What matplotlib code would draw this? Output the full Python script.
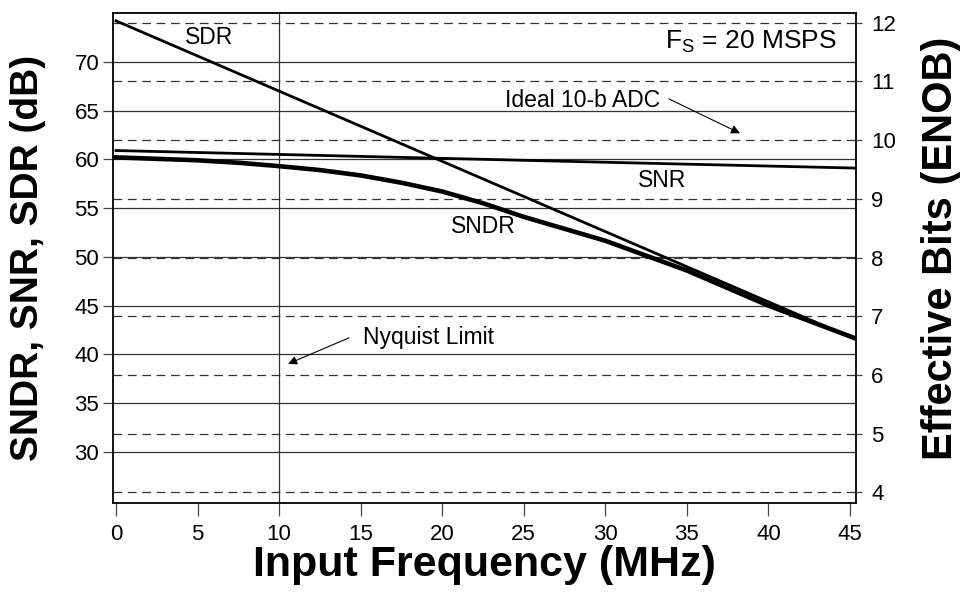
import numpy as np
import matplotlib
matplotlib.use("Agg")
import matplotlib.pyplot as plt

plt.rcParams['font.family'] = ['Liberation Sans', 'DejaVu Sans']
plt.rcParams['mathtext.fontset'] = 'custom'
plt.rcParams['mathtext.rm'] = 'Liberation Sans'
plt.rcParams['mathtext.it'] = 'Liberation Sans'

# ---- data ----
freq_sdr = [0, 45.4]
sdr_db = [74.2, 41.5]

freq_snr = [0, 10, 20, 30, 45.4]
snr_db = [60.9, 60.5, 60.1, 59.7, 59.1]

freq_sndr = [0, 5, 7.5, 10, 12.5, 15, 17.5, 20, 22.5, 25, 30, 35, 40, 45.4]
sndr_db = [60.2, 59.9, 59.65, 59.3, 58.9, 58.35, 57.6, 56.7, 55.5, 54.1,
           51.65, 48.6, 45.0, 41.6]

db_ticks = [30, 35, 40, 45, 50, 55, 60, 65, 70]
enob_ticks = [4, 5, 6, 7, 8, 9, 10, 11, 12]
x_ticks = [0, 5, 10, 15, 20, 25, 30, 35, 40, 45]
nyquist = 10


def enob2db(n):
    return 6.02 * np.asarray(n) + 1.76


def db2enob(d):
    return (np.asarray(d) - 1.76) / 6.02


fig = plt.figure(figsize=(9.62, 6.03), dpi=100)
ax = fig.add_axes([0.1175, 0.1658, 0.7723, 0.8126])

xlo, xhi = -0.18, 45.37
ylo, yhi = 24.76, 75.0
ax.set_xlim(xlo, xhi)
ax.set_ylim(ylo, yhi)

# grid: solid at dB ticks, dashed at ENOB levels, vertical at Nyquist
for d in db_ticks:
    ax.axhline(d, color='#333333', lw=0.9, zorder=1)
for n in enob_ticks:
    ax.axhline(enob2db(n), color='#333333', lw=0.9,
               linestyle=(0, (7, 4.5)), zorder=1)
ax.axvline(nyquist, color='#333333', lw=0.9, zorder=1)

# curves
ax.plot(freq_snr, snr_db, color='black', lw=2.0, zorder=3)
ax.plot(freq_sdr, sdr_db, color='black', lw=2.0, zorder=3)
ax.plot(freq_sndr, sndr_db, color='black', lw=3.3, zorder=4)

# labels on curves
fs_txt = 16.5
ax.text(5.7, 72.5, "SDR", fontsize=fs_txt, ha='center', va='center')
ax.text(33.5, 57.84, "SNR", fontsize=fs_txt, ha='center', va='center')
ax.text(22.5, 53.1, "SNDR", fontsize=fs_txt, ha='center', va='center')
ax.text(44.2, 72.06, r"F$_\mathrm{S}$ = 20 MSPS", fontsize=19,
        ha='right', va='center')

arrow = dict(arrowstyle='-|>', color='black', lw=0.8,
             mutation_scale=13, shrinkA=0, shrinkB=0)
ax.text(33.35, 66.06, "Ideal 10-b ADC", fontsize=fs_txt,
        ha='right', va='center')
ax.annotate("", xy=(38.26, 62.67), xytext=(33.9, 66.2), arrowprops=arrow)
ax.text(15.14, 41.7, "Nyquist Limit", fontsize=fs_txt, ha='left', va='center')
ax.annotate("", xy=(10.55, 39.03), xytext=(14.29, 41.7), arrowprops=arrow)

# axes styling
for s in ax.spines.values():
    s.set_linewidth(1.3)
ax.set_xticks(x_ticks)
ax.set_yticks(db_ticks)
ax.tick_params(axis='x', direction='out', length=9, width=0.9,
               color='#444444', labelsize=16, pad=6)
ax.tick_params(axis='y', direction='out', length=7, width=0.9,
               color='#444444', labelsize=16, pad=3)
ax.set_xlabel("Input Frequency (MHz)", fontsize=31, fontweight='bold',
              va='center')
ax.xaxis.set_label_coords(0.5, -0.1265)
ax.set_ylabel("SNDR, SNR, SDR (dB)", fontsize=28, fontweight='bold',
              va='center')
ax.yaxis.set_label_coords(-0.114, 0.5)

ax2 = ax.twinx()
ax2.set_position(ax.get_position())
ax2.set_ylim(db2enob(ylo), db2enob(yhi))
ax2.set_yticks(enob_ticks)
ax2.tick_params(axis='y', direction='out', length=4, width=0.9,
                color='#444444', labelsize=16, pad=7)
ax2.set_ylabel("Effective Bits (ENOB)", fontsize=30, fontweight='bold',
               va='center')
ax2.yaxis.set_label_coords(1.115, 0.52)
for s in ax2.spines.values():
    s.set_visible(False)

fig.savefig("out.png", dpi=100)
